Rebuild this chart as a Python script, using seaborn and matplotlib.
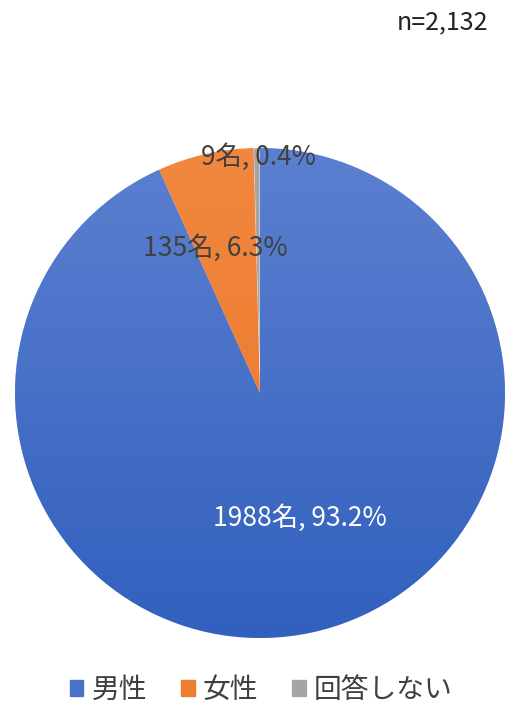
import matplotlib
matplotlib.use("Agg")
import matplotlib.pyplot as plt
import seaborn as sns
import numpy as np

categories = ["男性", "女性", "回答しない"]
counts = [1988, 135, 9]
percents = [93.2, 6.3, 0.4]
total_label = "n=2,132"
colors = ["#4a72c8", "#ed7d31", "#a5a5a5"]

sns.set_theme(style="white")
plt.rcParams['font.family'] = ['Noto Sans CJK JP', 'DejaVu Sans']

fig = plt.figure(figsize=(5.07, 7.11), dpi=100)
ax = fig.add_axes([15/507, 73/711, 490/507, 490/711])

wedges, _ = ax.pie(counts, colors=colors, startangle=90, counterclock=False,
                   radius=1.0, wedgeprops=dict(linewidth=0.5, edgecolor="white"))

# vertical gradient on the blue wedge
grad = np.linspace(0, 1, 256).reshape(-1, 1)
cmap = matplotlib.colors.LinearSegmentedColormap.from_list("b", ["#3160be", "#5c80d0"])
im = ax.imshow(grad, extent=[-1, 1, -1, 1], origin="lower", cmap=cmap, zorder=1.5, aspect="auto")
im.set_clip_path(wedges[0])
cmap2 = matplotlib.colors.LinearSegmentedColormap.from_list("o", ["#ea7628", "#f2873f"])
im2 = ax.imshow(grad, extent=[-1, 1, -1, 1], origin="lower", cmap=cmap2, zorder=1.5, aspect="auto")
im2.set_clip_path(wedges[1])
ax.set_xlim(-1, 1)
ax.set_ylim(-1, 1)
ax.set_aspect("equal")
ax.axis("off")

label_pos = [(0.163, -0.51), (-0.184, 0.592), (-0.008, 0.963)]
label_col = ["white", "#404040", "#404040"]
for (x, y), c, p, col in zip(label_pos, counts, percents, label_col):
    ax.text(x, y, f"{c}名, {p}%", ha="center", va="center", fontsize=19, color=col, zorder=3)

fig.text(488/507, 1 - 22/711, total_label, ha="right", va="center", fontsize=18, color="#222222")

handles = [matplotlib.patches.Patch(color=c) for c in colors]
fig.legend(handles, categories, loc="center", bbox_to_anchor=(0.515, 1 - 690/711), ncol=3,
           frameon=False, fontsize=20, handlelength=0.5, handleheight=0.5, handletextpad=0.3,
           columnspacing=1.2, labelcolor="#404040")

fig.savefig("out.png", dpi=100)
